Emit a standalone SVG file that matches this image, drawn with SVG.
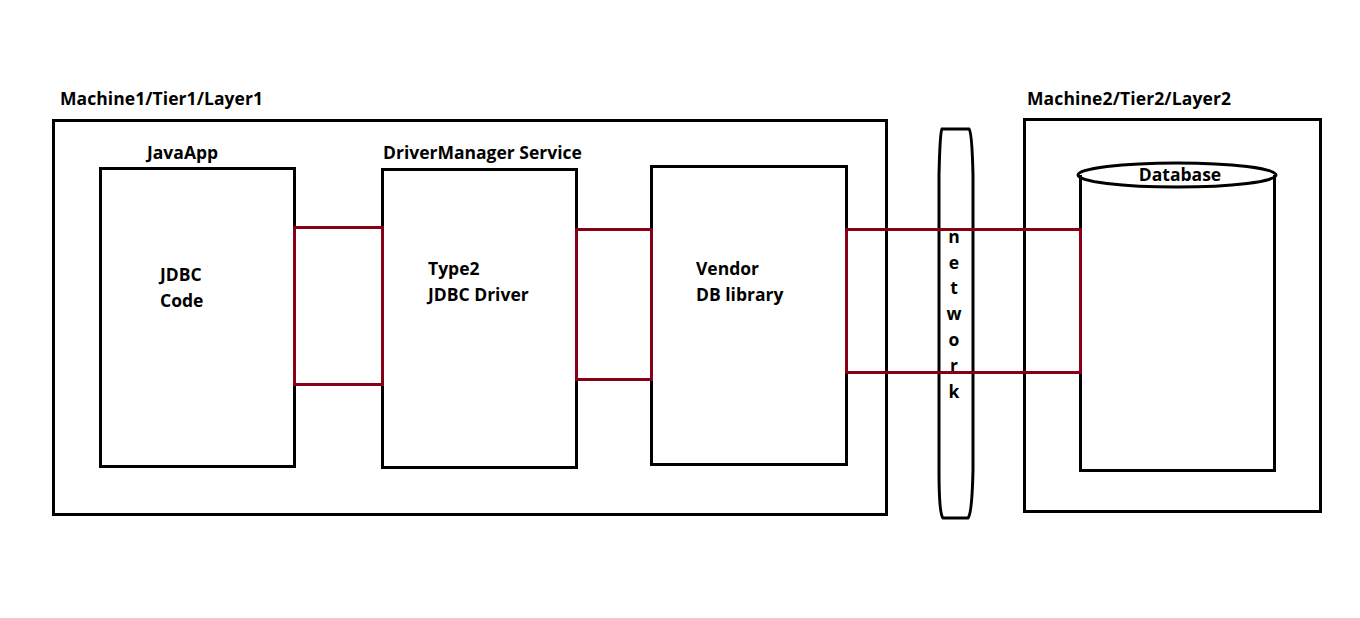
<svg xmlns="http://www.w3.org/2000/svg" width="1360" height="618" viewBox="0 0 1360 618">
<style>
.box{fill:none;stroke:#000;stroke-width:3}
.con{fill:none;stroke:#880015;stroke-width:3}
text{font-family:"Open Sans","Noto Sans","DejaVu Sans",sans-serif;font-weight:bold;font-size:17.5px;fill:#000}
</style>
<rect width="1360" height="618" fill="#fff"/>
<g id="machine1">
<rect class="box" x="53.5" y="120.5" width="833" height="394"/>
<text x="60" y="105" textLength="203">Machine1/Tier1/Layer1</text>
</g>
<g id="javaapp">
<rect class="box" x="100.5" y="168.5" width="194" height="298"/>
<text x="147" y="159">JavaApp</text>
<text x="160" y="281">JDBC</text>
<text x="160" y="307">Code</text>
</g>
<g id="drivermanager">
<rect class="box" x="382.5" y="169.5" width="194" height="298"/>
<text x="383" y="159">DriverManager Service</text>
<text x="428" y="275">Type2</text>
<text x="428" y="301">JDBC Driver</text>
</g>
<g id="vendor">
<rect class="box" x="651.5" y="166.5" width="195" height="298"/>
<text x="696" y="275">Vendor</text>
<text x="696" y="301">DB library</text>
</g>
<g id="network">
<path class="box" d="M942,129 L969,129 Q972,132 973,175 L973,470 Q972,514 968,518 L943,518 Q939,514 939,470 L939,175 Q940,132 942,129 Z"/>
<text x="954" y="243" text-anchor="middle">n</text>
<text x="954" y="269" text-anchor="middle">e</text>
<text x="954" y="294" text-anchor="middle">t</text>
<text x="954" y="320" text-anchor="middle">w</text>
<text x="954" y="346" text-anchor="middle">o</text>
<text x="954" y="372" text-anchor="middle">r</text>
<text x="954" y="398" text-anchor="middle">k</text>
</g>
<g id="machine2">
<rect class="box" x="1024.5" y="119.5" width="296" height="392"/>
<text x="1027" y="105" textLength="204">Machine2/Tier2/Layer2</text>
</g>
<g id="database">
<path class="box" d="M1080.5,175 L1080.5,470.5 L1274.5,470.5 L1274.5,175"/>
<ellipse class="box" cx="1177" cy="175" rx="99" ry="12"/>
<text x="1180" y="181" text-anchor="middle">Database</text>
</g>
<g id="connectors">
<rect class="con" x="294.5" y="227.5" width="88" height="157"/>
<rect class="con" x="576.5" y="229.5" width="75" height="150"/>
<rect class="con" x="846.5" y="229.5" width="234" height="143"/>
</g>
</svg>
